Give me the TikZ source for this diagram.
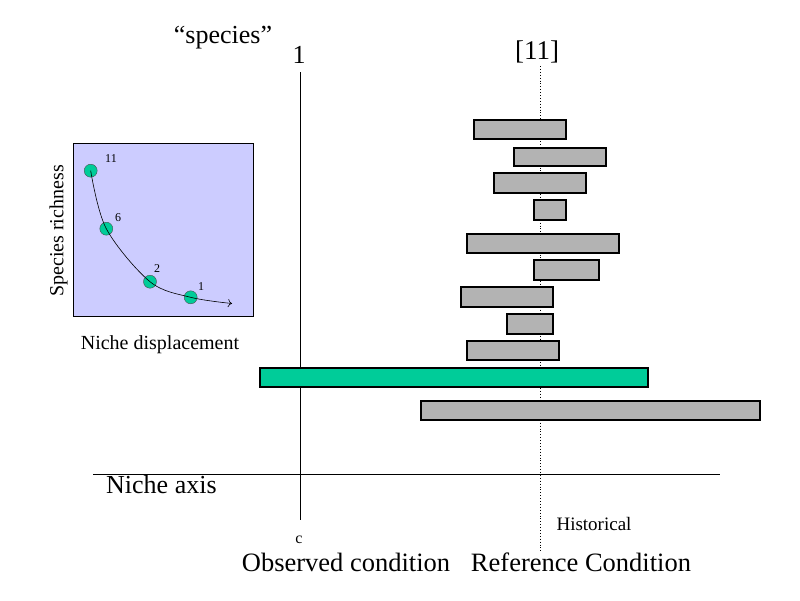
\documentclass[tikz,border=0pt]{standalone}
\usepackage{fontspec}
\setmainfont{Liberation Serif}
\usetikzlibrary{arrows, arrows.meta, calc}
\definecolor{barGray}{RGB}{179,179,179}
\definecolor{nicheGreen}{RGB}{0,204,153}
\definecolor{insetBlue}{RGB}{204,204,255}
\newcommand{\fsz}[1]{\fontsize{#1}{#1}\selectfont}
\tikzset{
  bar/.style={draw=black, line width=1.3pt, fill=barGray},
  greenbar/.style={draw=black, line width=1.3pt, fill=nicheGreen},
  dot/.style={circle, draw=black!70, fill=nicheGreen, inner sep=0pt, minimum size=13pt},
  lbl/.style={inner sep=0pt}
}
\begin{document}
\begin{tikzpicture}[x=1pt, y=-1pt]
        \useasboundingbox (0,0) rectangle (800,600);
        % axes
        \coordinate (obsTop) at (300, 72);
        \coordinate (obsBot) at (300, 520);
        \coordinate (refTop) at (540, 66);
        \coordinate (refBot) at (540, 552);
        \coordinate (axL) at (93, 474);
        \coordinate (axR) at (720, 474);
        \draw[line width=0.9pt] (obsTop) -- (obsBot);
        \draw[dotted, line width=0.9pt] (refTop) -- (refBot);
        \draw[line width=0.9pt] (axL) -- (axR);

        % reference bars
        \foreach \xa/\ya/\xb/\yb in {474/120/566/139, 514/148/606/166, 494/173/586/193,
            534/200/566/220, 467/234/619/253, 534/260/599/280, 461/287/553/307,
            507/314/553/334, 467/341/559/360, 421/401/760/420}
            \draw[bar] (\xa,\ya) rectangle (\xb,\yb);
        \draw[greenbar] (260,368) rectangle (648,387);

        % labels
        \node[lbl, anchor=base] (spc) at (223, 43) {\fsz{26}“species”};
        \node[lbl, anchor=base] (one) at (299, 63) {\fsz{26}1};
        \node[lbl, anchor=base] (eleven) at (537, 59) {\fsz{27}[11]};
        \node[lbl, anchor=base west] (axis) at (106, 493) {\fsz{26}Niche axis};
        \node[lbl, anchor=base] (c) at (299, 543) {\fsz{16}c};
        \node[lbl, anchor=base] (hist) at (594, 530) {\fsz{19}Historical};
        \node[lbl, anchor=base] (obs) at (346, 571) {\fsz{26.5}Observed condition};
        \node[lbl, anchor=base] (ref) at (581, 571) {\fsz{26.5}Reference Condition};

        % inset
        \filldraw[fill=insetBlue, draw=black, line width=0.9pt] (73,143) rectangle (253,316);
        \node[dot] (d11) at (90.7, 170.7) {};
        \node[dot] (d6) at (106.3, 228.7) {};
        \node[dot] (d2) at (150, 281.7) {};
        \node[dot] (d1) at (190.7, 297.3) {};
        \coordinate (tip) at (232, 303.5);
        \draw[-{To[length=4pt, width=8pt]}, line width=0.6pt] plot[smooth, tension=0.55] coordinates
            {(d11.center) (d6.center) (d2.center) (d1.center) (tip)};
        \node[lbl] (n11) at (111, 159) {\fsz{12}11};
        \node[lbl] (n6) at (118, 217.5) {\fsz{12}6};
        \node[lbl] (n2) at (157, 268.5) {\fsz{12}2};
        \node[lbl] (n1) at (201, 286.5) {\fsz{12}1};
        \node[lbl, rotate=90] (rich) at (58.5, 231) {\fsz{20}Species richness};
        \node[lbl] (disp) at (160, 345) {\fsz{20}Niche displacement};
    \end{tikzpicture}
\end{document}
